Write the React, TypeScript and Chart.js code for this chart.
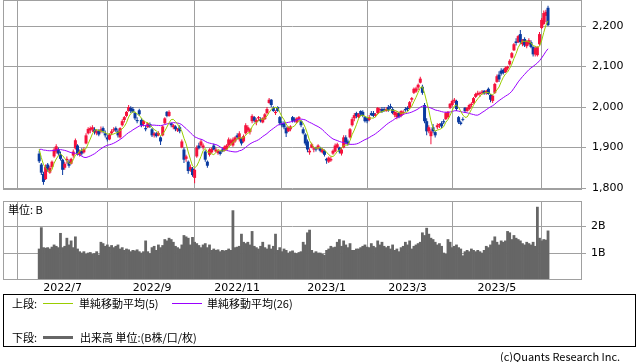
import React, { useEffect, useRef } from 'react';
import { Chart, registerables } from 'chart.js';

Chart.register(...registerables);

// ---------- DATA (TOPIX daily, 2022/6/16 - 2023/6/7) ----------
const opens = [
  1885, 1858, 1835, 1822, 1858, 1838, 1852, 1878, 1890, 1895, 1882, 1870, 1850, 1868, 1865, 1860, 1880, 1898, 1905, 1882,
  1892, 1888, 1910, 1935, 1942, 1945, 1945, 1935, 1942, 1940, 1948, 1935, 1925, 1920, 1935, 1942, 1948, 1940, 1925, 1955,
  1968, 1978, 1990, 1998, 1995, 1985, 1968, 1992, 1968, 1958, 1948, 1950, 1958, 1945, 1930, 1935, 1930, 1925, 1930, 1960,
  1988, 1978, 1960, 1950, 1952, 1942, 1950, 1900, 1895, 1872, 1865, 1845, 1848, 1825, 1878, 1905, 1905, 1900, 1890, 1865,
  1882, 1888, 1905, 1890, 1886, 1890, 1895, 1892, 1895, 1905, 1910, 1905, 1915, 1930, 1920, 1922, 1915, 1935, 1942, 1938,
  1965, 1975, 1962, 1972, 1970, 1962, 1970, 1985, 2010, 2018, 1998, 1985, 2000, 1975, 1960, 1960, 1948, 1940, 1945, 1975,
  1970, 1962, 1970, 1965, 1945, 1932, 1915, 1888, 1900, 1895, 1898, 1898, 1898, 1888, 1892, 1872, 1865, 1868, 1885, 1890,
  1900, 1900, 1885, 1900, 1925, 1915, 1925, 1955, 1972, 1985, 1975, 1990, 1988, 1975, 1972, 1968, 1985, 1985, 1978, 1985,
  1992, 1995, 1995, 1990, 2000, 2002, 1995, 1980, 1975, 1985, 1978, 1985, 1995, 1998, 1998, 2018, 2035, 2038, 2048, 2060,
  2050, 2005, 1965, 1940, 1928, 1950, 1938, 1950, 1955, 1960, 1965, 1970, 1975, 1998, 2005, 2015, 2015, 1975, 1962, 1970,
  1998, 1990, 1995, 2005, 2010, 2025, 2030, 2032, 2035, 2040, 2035, 2045, 2030, 2015, 2035, 2062, 2080, 2090, 2092, 2086,
  2095, 2105, 2122, 2140, 2162, 2160, 2180, 2155, 2168, 2150, 2155, 2160, 2148, 2130, 2128, 2155, 2195, 2205, 2225, 2245,
];
const highs = [
  1892, 1862, 1840, 1858, 1862, 1855, 1868, 1900, 1908, 1900, 1890, 1872, 1865, 1878, 1870, 1875, 1895, 1922, 1908, 1895,
  1898, 1900, 1935, 1950, 1952, 1955, 1950, 1945, 1945, 1952, 1952, 1942, 1930, 1935, 1945, 1950, 1952, 1945, 1950, 1970,
  1978, 1990, 2005, 2002, 2000, 1988, 1975, 1996, 1972, 1968, 1955, 1962, 1962, 1948, 1938, 1938, 1940, 1928, 1955, 1975,
  1990, 1992, 1962, 1958, 1955, 1948, 1955, 1920, 1900, 1882, 1868, 1858, 1852, 1848, 1905, 1912, 1920, 1910, 1893, 1868,
  1898, 1900, 1910, 1900, 1895, 1892, 1900, 1905, 1908, 1925, 1922, 1925, 1928, 1935, 1940, 1925, 1932, 1960, 1955, 1948,
  1982, 1978, 1972, 1978, 1975, 1975, 1985, 2000, 2022, 2020, 2002, 1992, 2002, 1978, 1965, 1965, 1952, 1952, 1955, 1978,
  1975, 1975, 1978, 1968, 1950, 1935, 1920, 1898, 1912, 1902, 1902, 1908, 1902, 1898, 1895, 1875, 1878, 1878, 1895, 1910,
  1912, 1902, 1900, 1930, 1930, 1920, 1948, 1975, 1985, 1988, 1985, 1992, 1992, 1978, 1975, 1980, 1990, 1990, 1985, 2000,
  1998, 2000, 2000, 2000, 2005, 2008, 2000, 1992, 1990, 1988, 1992, 1992, 2000, 2002, 2015, 2025, 2048, 2050, 2058, 2075,
  2055, 2010, 1972, 1955, 1945, 1958, 1942, 1960, 1960, 1965, 1970, 1988, 1990, 2010, 2018, 2022, 2018, 1978, 1966, 1975,
  2000, 2000, 2008, 2012, 2025, 2035, 2040, 2038, 2042, 2042, 2042, 2048, 2032, 2030, 2060, 2080, 2088, 2096, 2095, 2100,
  2102, 2118, 2136, 2158, 2170, 2178, 2190, 2168, 2172, 2165, 2170, 2165, 2150, 2150, 2150, 2185, 2220, 2238, 2240, 2250,
];
const lows = [
  1862, 1832, 1808, 1820, 1840, 1835, 1848, 1875, 1885, 1880, 1868, 1832, 1845, 1860, 1850, 1858, 1875, 1895, 1880, 1878,
  1880, 1885, 1908, 1932, 1935, 1938, 1932, 1930, 1928, 1935, 1935, 1925, 1915, 1918, 1930, 1938, 1938, 1925, 1922, 1952,
  1962, 1975, 1988, 1985, 1985, 1968, 1960, 1978, 1950, 1952, 1940, 1948, 1948, 1926, 1925, 1925, 1928, 1906, 1928, 1958,
  1975, 1976, 1950, 1945, 1940, 1938, 1935, 1898, 1862, 1865, 1835, 1840, 1828, 1812, 1875, 1895, 1902, 1895, 1865, 1850,
  1878, 1885, 1893, 1888, 1882, 1880, 1888, 1890, 1893, 1902, 1905, 1902, 1912, 1920, 1915, 1905, 1912, 1932, 1938, 1932,
  1960, 1962, 1955, 1965, 1962, 1960, 1968, 1982, 2008, 2000, 1988, 1980, 1988, 1955, 1950, 1945, 1926, 1938, 1940, 1962,
  1962, 1960, 1965, 1950, 1932, 1905, 1888, 1882, 1898, 1888, 1890, 1895, 1888, 1885, 1878, 1860, 1862, 1865, 1882, 1888,
  1898, 1885, 1880, 1898, 1908, 1905, 1922, 1952, 1965, 1972, 1972, 1978, 1975, 1962, 1960, 1965, 1978, 1975, 1975, 1982,
  1985, 1985, 1988, 1988, 1988, 1995, 1982, 1975, 1970, 1972, 1975, 1980, 1988, 1990, 1995, 2012, 2032, 2035, 2042, 2058,
  2030, 1960, 1930, 1935, 1908, 1935, 1925, 1945, 1948, 1948, 1958, 1968, 1972, 1995, 2002, 2010, 1990, 1958, 1955, 1965,
  1985, 1988, 1992, 2000, 2008, 2022, 2028, 2025, 2030, 2030, 2030, 2030, 2012, 2010, 2032, 2060, 2062, 2078, 2080, 2084,
  2090, 2102, 2120, 2138, 2152, 2158, 2155, 2150, 2148, 2145, 2152, 2145, 2125, 2125, 2125, 2152, 2192, 2202, 2210, 2200,
];
const closes = [
  1866, 1838, 1815, 1852, 1845, 1850, 1865, 1895, 1903, 1885, 1872, 1845, 1860, 1872, 1855, 1872, 1890, 1918, 1885, 1890,
  1885, 1896, 1930, 1946, 1948, 1950, 1938, 1940, 1932, 1945, 1940, 1930, 1920, 1932, 1940, 1945, 1942, 1930, 1948, 1965,
  1975, 1988, 2000, 1990, 1988, 1972, 1965, 1982, 1955, 1965, 1945, 1960, 1952, 1930, 1935, 1928, 1936, 1915, 1952, 1972,
  1978, 1988, 1955, 1955, 1945, 1945, 1940, 1915, 1870, 1878, 1842, 1852, 1832, 1845, 1900, 1898, 1915, 1905, 1870, 1855,
  1895, 1897, 1895, 1895, 1892, 1884, 1890, 1902, 1905, 1920, 1918, 1920, 1925, 1925, 1935, 1910, 1928, 1955, 1950, 1945,
  1978, 1966, 1968, 1975, 1965, 1972, 1982, 1995, 2018, 2005, 1990, 1988, 1990, 1960, 1955, 1950, 1935, 1950, 1952, 1966,
  1965, 1972, 1975, 1955, 1935, 1910, 1895, 1892, 1908, 1898, 1895, 1905, 1892, 1895, 1882, 1868, 1875, 1872, 1892, 1905,
  1908, 1890, 1895, 1925, 1912, 1908, 1945, 1970, 1980, 1978, 1982, 1982, 1978, 1965, 1965, 1975, 1980, 1978, 1982, 1998,
  1995, 1988, 1990, 1995, 1992, 1998, 1985, 1988, 1985, 1975, 1990, 1988, 1992, 1995, 2012, 2022, 2045, 2046, 2055, 2070,
  2035, 1965, 1940, 1950, 1940, 1940, 1930, 1955, 1958, 1952, 1962, 1985, 1988, 2008, 2015, 2018, 1995, 1962, 1958, 1968,
  1990, 1998, 2005, 2008, 2022, 2032, 2035, 2035, 2038, 2033, 2040, 2032, 2018, 2028, 2057, 2076, 2068, 2082, 2084, 2097,
  2100, 2114, 2133, 2155, 2158, 2175, 2160, 2165, 2152, 2162, 2165, 2148, 2130, 2145, 2148, 2180, 2215, 2232, 2235, 2202,
];
// closes of the 25 sessions before the first drawn session (feed the moving averages)
const priorCloses = [
  1830, 1864, 1865, 1870, 1858, 1860, 1875, 1878, 1865, 1866, 1868, 1888, 1913, 1912, 1919,
  1920, 1929, 1938, 1945, 1964, 1969, 1944, 1900, 1892, 1880,
];
// volume, billions of shares
const volumes = [
  1.15, 1.94, 1.2, 1.18, 1.2, 1.15, 1.22, 1.3, 1.25, 1.2,
  1.73, 1.2, 1.25, 1.55, 1.3, 1.45, 1.2, 1.6, 1.15, 1.05,
  1.0, 1.05, 0.95, 1.0, 1.02, 0.95, 0.98, 1.05, 0.93, 1.4,
  1.35, 1.25, 1.3, 1.22, 1.28, 1.2, 1.25, 1.3, 1.15, 1.2,
  1.1, 1.15, 1.12, 1.05, 1.1, 1.08, 1.12, 1.05, 1.0, 1.05,
  1.45, 1.05, 0.98, 1.2, 1.25, 1.1, 1.3, 1.2, 1.28, 1.5,
  1.45, 1.55, 1.5, 1.4, 1.25, 1.2, 1.15, 1.3, 1.65, 1.6,
  1.55, 1.3, 1.58, 1.4, 1.35, 1.28, 1.2, 1.3, 1.35, 1.2,
  1.3, 1.1, 1.15, 1.1, 1.12, 1.05, 1.1, 1.08, 1.1, 1.15,
  1.1, 2.57, 1.2, 1.22, 1.25, 1.7, 1.4, 1.35, 1.4, 1.3,
  1.8, 1.25, 1.2, 1.15, 1.25, 1.4, 1.2, 1.15, 1.3, 1.15,
  1.25, 1.7, 1.1, 1.2, 1.05, 1.15, 1.1, 1.0, 1.05, 1.08,
  1.0, 0.98, 1.02, 1.05, 1.4, 1.3, 1.75, 1.85, 1.1, 1.0,
  1.05, 1.0, 1.0, 0.95, 0.92, 1.1, 1.15, 1.25, 1.2, 1.22,
  1.4, 1.5, 1.25, 1.45, 1.3, 1.2, 1.35, 1.1, 1.1, 1.15,
  1.15, 1.2, 1.25, 1.3, 1.22, 1.2, 1.35, 1.25, 1.2, 1.45,
  1.3, 1.4, 1.25, 1.2, 1.25, 1.15, 1.3, 1.1, 1.15, 1.05,
  1.2, 1.25, 1.4, 1.3, 1.45, 1.15, 1.25, 1.3, 1.35, 1.4,
  1.75, 1.65, 1.92, 1.7, 1.55, 1.5, 1.4, 1.3, 1.35, 1.25,
  1.0, 0.95, 1.5, 1.4, 1.2, 1.25, 1.3, 1.2, 1.15, 0.9,
  1.05, 1.1, 1.05, 1.15, 1.1, 1.05, 1.1, 1.05, 1.0, 1.1,
  1.25, 1.2, 1.3, 1.45, 1.6, 1.4, 1.3, 1.45, 1.4, 1.45,
  1.8, 1.75, 1.5, 1.65, 1.55, 1.5, 1.45, 1.35, 1.3, 1.4,
  1.35, 1.3, 1.4, 1.25, 2.7, 1.55, 1.45, 1.5, 1.48, 1.82,
];
const monthTickIndex = [11, 53, 93, 135, 173, 215];
const monthTickLabels = ['2022/7', '2022/9', '2022/11', '2023/1', '2023/3', '2023/5'];
const priceTicks = [1800, 1900, 2000, 2100, 2200];
const volumeTicks = [1, 2];
const volumeTickLabels = ['1B', '2B'];

// ---------- STYLE ----------
const W = 638;
const X_MIN = -17;
const X_MAX = 254.96;
const GRID = '#a0a0a0';
const UP = '#f5123c';
const DOWN = '#0a3aa0';
const MA5_COLOR = '#9acd00';
const MA26_COLOR = '#9a00ff';
const VOL_COLOR = '#666666';
const FONT = "'DejaVu Sans', 'Noto Sans CJK JP', sans-serif";
const CJK = "'Noto Sans CJK JP', 'DejaVu Sans', sans-serif";

function movingAverage(n: number): number[] {
  const all = priorCloses.concat(closes);
  return closes.map((_, i) => {
    const end = priorCloses.length + i;
    let s = 0;
    for (let k = end - n + 1; k <= end; k++) s += all[k];
    return s / n;
  });
}

const framePlugin = {
  id: 'frame',
  afterDraw(chart: any) {
    const { ctx, chartArea } = chart;
    const { left, top, right, bottom } = chartArea;
    ctx.save();
    ctx.strokeStyle = GRID;
    ctx.lineWidth = 1;
    ctx.strokeRect(Math.round(left) + 0.5, Math.round(top) + 0.5, Math.round(right - left) - 1, Math.round(bottom - top) - 1);
    ctx.restore();
  },
};

function xScale(showLabels: boolean, height: number) {
  return {
    type: 'linear',
    min: X_MIN,
    max: X_MAX,
    offset: false,
    afterBuildTicks: (s: any) => {
      s.ticks = monthTickIndex.map((v) => ({ value: v }));
    },
    ticks: {
      display: showLabels,
      autoSkip: false,
      maxRotation: 0,
      padding: 2,
      color: '#000',
      font: { family: FONT, size: 11 },
      callback: (_v: any, i: number) => monthTickLabels[i],
    },
    grid: { color: GRID, drawTicks: false, lineWidth: 1 },
    border: { display: false },
    afterFit: (s: any) => {
      s.height = height;
      s.paddingLeft = 0;
      s.paddingRight = 0;
    },
  };
}

export default function App() {
  const priceRef = useRef<HTMLCanvasElement>(null);
  const volRef = useRef<HTMLCanvasElement>(null);

  useEffect(() => {
    const ma5 = movingAverage(5);
    const ma26 = movingAverage(26);
    const candleColors = closes.map((c, i) => (c >= opens[i] ? UP : DOWN));

    const price = new Chart(priceRef.current!, {
      type: 'bar',
      data: {
        datasets: [
          {
            type: 'line',
            data: ma5.map((y, i) => ({ x: i, y })),
            borderColor: MA5_COLOR,
            borderWidth: 1,
            pointRadius: 0,
            tension: 0,
            order: 0,
          } as any,
          {
            type: 'line',
            data: ma26.map((y, i) => ({ x: i, y })),
            borderColor: MA26_COLOR,
            borderWidth: 1,
            pointRadius: 0,
            tension: 0,
            order: 0,
          } as any,
          {
            type: 'bar',
            data: closes.map((c, i) => ({ x: i, y: [opens[i], c] })),
            backgroundColor: candleColors,
            barThickness: 3,
            grouped: false,
            inflateAmount: 0,
            borderWidth: 0,
            order: 1,
          } as any,
          {
            type: 'bar',
            data: closes.map((_, i) => ({ x: i, y: [lows[i], highs[i]] })),
            backgroundColor: candleColors,
            barThickness: 1,
            grouped: false,
            inflateAmount: 0,
            borderWidth: 0,
            order: 2,
          } as any,
        ],
      },
      options: {
        animation: false,
        responsive: false,
        maintainAspectRatio: false,
        layout: { padding: { left: 3, right: 0, top: 0, bottom: 8 } },
        plugins: { legend: { display: false }, tooltip: { enabled: false } },
        scales: {
          x: xScale(false, 0) as any,
          y: {
            position: 'right',
            min: 1795.1,
            max: 2264.2,
            afterBuildTicks: (s: any) => {
              s.ticks = priceTicks.map((v) => ({ value: v }));
            },
            ticks: {
              padding: 6,
              color: '#000',
              font: { family: FONT, size: 11 },
              callback: (v: any) => Number(v).toLocaleString('en-US'),
            },
            grid: { color: GRID, tickLength: 4, lineWidth: 1 },
            border: { display: false },
            afterFit: (s: any) => {
              s.width = 56;
              s.paddingTop = 0;
              s.paddingBottom = 0;
            },
          } as any,
        },
      },
      plugins: [framePlugin],
    });

    const vol = new Chart(volRef.current!, {
      type: 'bar',
      data: {
        datasets: [
          {
            data: volumes.map((v, i) => ({ x: i, y: v })),
            backgroundColor: VOL_COLOR,
            barPercentage: 1,
            categoryPercentage: 1,
            borderWidth: 0,
          } as any,
        ],
      },
      options: {
        animation: false,
        responsive: false,
        maintainAspectRatio: false,
        layout: { padding: { left: 3, right: 0, top: 6, bottom: 0 } },
        plugins: { legend: { display: false }, tooltip: { enabled: false } },
        scales: {
          x: xScale(true, 15) as any,
          y: {
            position: 'right',
            min: 0,
            max: 2.926,
            afterBuildTicks: (s: any) => {
              s.ticks = volumeTicks.map((v) => ({ value: v }));
            },
            ticks: {
              padding: 5,
              color: '#000',
              font: { family: FONT, size: 11 },
              callback: (_v: any, i: number) => volumeTickLabels[i],
            },
            grid: { color: GRID, tickLength: 4, lineWidth: 1 },
            border: { display: false },
            afterFit: (s: any) => {
              s.width = 56;
              s.paddingTop = 0;
              s.paddingBottom = 0;
            },
          } as any,
        },
      },
      plugins: [framePlugin],
    });

    return () => {
      price.destroy();
      vol.destroy();
    };
  }, []);

  const abs = (extra: React.CSSProperties): React.CSSProperties => ({ position: 'absolute', ...extra });
  const txt: React.CSSProperties = { fontFamily: CJK, fontSize: 11, color: '#000', lineHeight: '13px', whiteSpace: 'nowrap' };

  return (
    <div style={{ position: 'fixed', left: 0, top: 0, width: W, height: 362, background: '#fff', overflow: 'hidden' }}>
      <canvas ref={priceRef} width={W} height={198} style={abs({ left: 0, top: 0, width: W, height: 198 })} />
      <canvas ref={volRef} width={W} height={100} style={abs({ left: 0, top: 195, width: W, height: 100 })} />
      <div style={abs({ ...txt, left: 8, top: 203 })}>単位: B</div>
      <div style={abs({ left: 3, top: 294, width: 631, height: 51, border: '1px solid #000' })} />
      <div style={abs({ ...txt, left: 12, top: 297 })}>上段:</div>
      <div style={abs({ left: 43, top: 303, width: 30, height: 1, background: MA5_COLOR })} />
      <div style={abs({ ...txt, left: 79, top: 297 })}>単純移動平均(5)</div>
      <div style={abs({ left: 172, top: 303, width: 30, height: 1, background: MA26_COLOR })} />
      <div style={abs({ ...txt, left: 207, top: 297 })}>単純移動平均(26)</div>
      <div style={abs({ ...txt, left: 12, top: 331 })}>下段:</div>
      <div style={abs({ left: 43, top: 336, width: 30, height: 3, background: VOL_COLOR })} />
      <div style={abs({ ...txt, left: 80, top: 331 })}>出来高 単位:(B株/口/枚)</div>
      <div style={abs({ ...txt, left: 500, top: 350 })}>(c)Quants Research Inc.</div>
    </div>
  );
}
